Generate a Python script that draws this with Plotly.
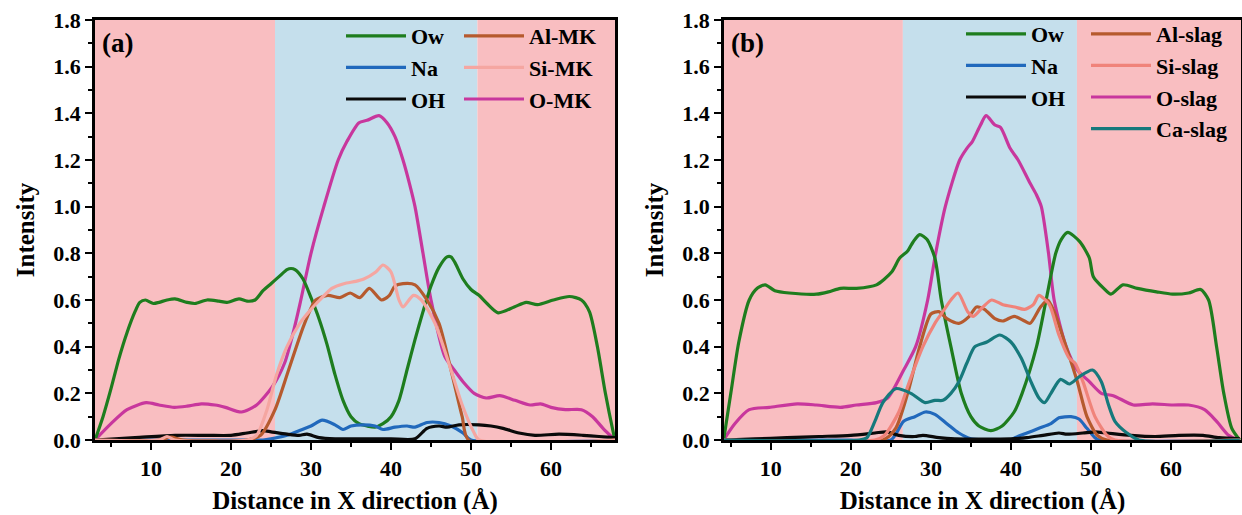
import plotly.graph_objects as go

# ---------------- Panel (a) data ----------------
A_OW_X = [3, 4, 5, 6, 7, 8, 8.6, 9.3, 10.3, 11, 12, 13, 14.5, 15.5, 17, 18.5, 19.5, 21, 22, 23, 24, 25, 26, 27, 27.5,
          28, 29, 30, 31, 32, 33, 34, 35, 36, 37, 38, 39, 40, 41, 42, 43, 44, 45, 46, 47, 47.5, 48, 49, 50, 51, 52,
          53.4, 55.4, 56.9, 58.3, 60.3, 62.3, 63.8, 64.8, 65.8, 66.8, 67.8, 68]
A_OW_Y = [0.0, 0.1, 0.22, 0.35, 0.46, 0.55, 0.59, 0.6, 0.585, 0.59, 0.6, 0.605, 0.59, 0.585, 0.6, 0.595, 0.59, 0.605,
          0.595, 0.6, 0.64, 0.67, 0.7, 0.73, 0.735, 0.73, 0.69, 0.61, 0.52, 0.41, 0.28, 0.17, 0.1, 0.07, 0.06, 0.055,
          0.07, 0.1, 0.17, 0.3, 0.43, 0.55, 0.66, 0.74, 0.785, 0.785, 0.76, 0.69, 0.645, 0.62, 0.585, 0.545, 0.57,
          0.59, 0.58, 0.6, 0.615, 0.6, 0.55, 0.4, 0.2, 0.03, 0.0]

A_NA_X = [3, 10, 20, 24, 25, 27, 28.5, 30, 31.4, 33, 34, 35, 36.5, 38, 39, 40.5, 42, 43, 44.5, 46, 47.5, 49, 50, 68]
A_NA_Y = [0.0, 0.0, 0.0, 0.0, 0.005, 0.02, 0.04, 0.06, 0.085, 0.065, 0.045, 0.06, 0.065, 0.06, 0.045, 0.055, 0.06,
          0.055, 0.075, 0.075, 0.06, 0.03, 0.0, 0.0]

A_OH_X = [3, 8, 13, 17, 20, 22, 24, 25, 27, 28.5, 29.5, 31, 33, 36, 40, 43, 44.5, 46, 47, 48.5, 51, 52.5, 54, 56, 58,
          61, 64, 66, 68]
A_OH_Y = [0.0, 0.01, 0.02, 0.02, 0.02, 0.03, 0.04, 0.035, 0.025, 0.02, 0.025, 0.01, 0.005, 0.005, 0.005, 0.005,
          0.05, 0.06, 0.055, 0.065, 0.065, 0.06, 0.05, 0.03, 0.02, 0.025, 0.02, 0.015, 0.01]

A_AL_X = [3, 11, 12.5, 14, 22, 23.7, 25.5, 27.2, 29.2, 30.6, 32.1, 33.6, 34.9, 36.1, 37.3, 38.8, 39.8, 40.5, 41.5, 43,
          44.5, 46, 47.5, 48.9, 49.7, 68]
A_AL_Y = [0.0, 0.0, 0.012, 0.0, 0.0, 0.02, 0.13, 0.3, 0.5, 0.6, 0.62, 0.61, 0.63, 0.61, 0.65, 0.6, 0.62, 0.66, 0.67,
          0.665, 0.6, 0.5, 0.3, 0.1, 0.0, 0.0]

A_SI_X = [3, 11, 12, 13, 22, 23.2, 24.5, 25.7, 27, 28.6, 30, 31.1, 32.6, 34.1, 35.6, 36.6, 38.1, 39, 40, 41, 41.5,
          42.8, 43.8, 45.5, 47.5, 48.9, 50.4, 51, 68]
A_SI_Y = [0.0, 0.0, 0.015, 0.0, 0.0, 0.02, 0.13, 0.28, 0.4, 0.5, 0.56, 0.6, 0.65, 0.67, 0.68, 0.69, 0.72, 0.75, 0.72,
          0.6, 0.57, 0.62, 0.6, 0.5, 0.3, 0.15, 0.03, 0.0, 0.0]

A_O_X = [3, 5, 7, 9.4, 11, 12.9, 14.5, 16.3, 18, 19.3, 21.3, 23.2, 25.2, 26.7, 27.7, 28.6, 30, 31.6, 33.4, 34.5, 36,
         37, 38.5, 39.5, 40.5, 41.5, 42.3, 43, 44, 45, 46.7, 47.9, 49, 50.4, 51.9, 53.6, 55.5, 57.4, 58.7, 60, 61.8,
         63.8, 65.2, 66.5, 68]
A_O_Y = [0.0, 0.07, 0.13, 0.16, 0.15, 0.14, 0.145, 0.155, 0.15, 0.14, 0.12, 0.15, 0.23, 0.33, 0.45, 0.58, 0.8, 1.0,
         1.2, 1.28, 1.36, 1.37, 1.39, 1.36, 1.3, 1.2, 1.1, 1.0, 0.8, 0.6, 0.36, 0.3, 0.25, 0.2, 0.18, 0.19, 0.17,
         0.15, 0.155, 0.14, 0.13, 0.13, 0.1, 0.05, 0.0]

# ---------------- Panel (b) data ----------------
B_OW_X = [4.1, 5, 6, 7.3, 8.3, 9.3, 10.5, 12.3, 15.7, 17.2, 18.7, 20.7, 23.2, 25.1, 26.1, 27.1, 27.8, 28.6, 29.5,
          30.5, 31.3, 32.5, 33.8, 35, 36, 37.5, 38.9, 40.4, 41.4, 43.2, 44.4, 45.6, 46.3, 47.1, 48.6, 49.8, 50.3,
          51.6, 52.5, 54, 55.8, 58.2, 60.2, 62.2, 63.7, 64.7, 65.7, 66.6, 67.6, 68.6]
B_OW_Y = [0.0, 0.2, 0.42, 0.6, 0.65, 0.665, 0.64, 0.63, 0.625, 0.635, 0.65, 0.65, 0.665, 0.72, 0.78, 0.81, 0.85,
          0.88, 0.86, 0.78, 0.6, 0.4, 0.2, 0.1, 0.06, 0.04, 0.06, 0.12, 0.2, 0.4, 0.6, 0.8, 0.86, 0.89, 0.85, 0.78,
          0.7, 0.65, 0.625, 0.665, 0.65, 0.635, 0.625, 0.63, 0.645, 0.6, 0.4, 0.2, 0.05, 0.0]

B_NA_X = [4.1, 20, 25, 26.6, 28, 29.3, 30.5, 32, 33.5, 35, 36.5, 40, 40.5, 42, 43.5, 45, 46, 47.5, 48.5, 49.5, 50.5,
          51, 68.6]
B_NA_Y = [0.0, 0.0, 0.0, 0.08, 0.1, 0.12, 0.11, 0.07, 0.03, 0.005, 0.0, 0.0, 0.01, 0.03, 0.05, 0.07, 0.095, 0.1,
          0.09, 0.05, 0.01, 0.0, 0.0]

B_OH_X = [4.1, 8, 12, 16, 20, 23, 24.5, 26, 28, 29, 31, 33, 40, 42, 44, 46, 47, 49, 50.5, 52, 55, 58, 61, 64, 66, 68.6]
B_OH_Y = [0.0, 0.005, 0.01, 0.015, 0.02, 0.03, 0.035, 0.02, 0.015, 0.02, 0.01, 0.005, 0.005, 0.01, 0.02, 0.03,
          0.025, 0.03, 0.035, 0.03, 0.02, 0.015, 0.02, 0.02, 0.01, 0.005]

B_AL_X = [4.1, 24, 25.6, 27.1, 28.6, 30, 31, 32, 33.5, 34.8, 35.7, 36.7, 38, 39, 40.4, 41.7, 42.4, 43.7, 44.6, 45.4,
          46.9, 48.3, 49.5, 50.8, 52, 68.6]
B_AL_Y = [0.0, 0.0, 0.05, 0.2, 0.4, 0.54, 0.55, 0.52, 0.5, 0.53, 0.57, 0.56, 0.52, 0.51, 0.53, 0.51, 0.5, 0.57, 0.6,
          0.55, 0.4, 0.25, 0.1, 0.02, 0.0, 0.0]

B_SI_X = [4.1, 23, 24.2, 26, 27, 29, 30.5, 31.5, 32.5, 33.4, 34.6, 35.3, 36.5, 37.6, 39, 40.5, 41.7, 42.8, 43.5, 44.8,
          46, 47.3, 48, 49, 50.5, 52, 53, 68.6]
B_SI_Y = [0.0, 0.0, 0.02, 0.12, 0.22, 0.4, 0.5, 0.55, 0.6, 0.63, 0.55, 0.53, 0.57, 0.6, 0.58, 0.57, 0.56, 0.58, 0.62,
          0.58, 0.45, 0.35, 0.33, 0.25, 0.1, 0.02, 0.0, 0.0]

B_O_X = [4.1, 5.5, 7.3, 9.8, 13.3, 15.7, 18.7, 20.7, 23.2, 24.6, 26.6, 28.1, 29.6, 30.6, 31.8, 33.6, 34.5, 35.2,
         36.2, 36.9, 38, 38.7, 39.9, 40.9, 42.4, 43.2, 43.8, 44.7, 45.4, 46.9, 48.3, 49.8, 51.3, 52.8, 55.3, 57.7,
         60.2, 62.2, 64.2, 65.7, 67.2, 68.4]
B_O_Y = [0.0, 0.07, 0.13, 0.14, 0.155, 0.15, 0.14, 0.15, 0.16, 0.18, 0.3, 0.4, 0.6, 0.8, 1.0, 1.2, 1.25, 1.28, 1.35,
         1.39, 1.35, 1.34, 1.25, 1.2, 1.1, 1.05, 1.0, 0.8, 0.6, 0.4, 0.3, 0.25, 0.2, 0.19, 0.15, 0.155, 0.15, 0.15,
         0.13, 0.08, 0.02, 0.0]

B_CA_X = [4.1, 21, 22, 23, 24, 25.6, 27.5, 29.3, 30.5, 31.5, 32.5, 33.5, 34.5, 35.5, 37, 38.6, 40, 41.3, 42.5, 43.5,
          44.2, 45, 46.2, 47.3, 48.5, 50.2, 51.3, 52.2, 53, 54.5, 56, 68.6]
B_CA_Y = [0.0, 0.0, 0.01, 0.08, 0.16, 0.22, 0.2, 0.16, 0.17, 0.17, 0.2, 0.25, 0.33, 0.4, 0.42, 0.45, 0.42, 0.35, 0.25,
          0.18, 0.16, 0.2, 0.26, 0.24, 0.27, 0.3, 0.25, 0.15, 0.08, 0.03, 0.0, 0.0]

# shaded regions: [pink start, blue start, blue end, pink end]
A_REGIONS = [3, 25.5, 50.8, 68]
B_REGIONS = [4.15, 26.5, 48.25, 68.75]

X_TICKS = [10, 20, 30, 40, 50, 60]
X_TICK_TEXT = ["10", "20", "30", "40", "50", "60"]
Y_TICKS = [0.0, 0.2, 0.4, 0.6, 0.8, 1.0, 1.2, 1.4, 1.6, 1.8]
Y_TICK_TEXT = ["0.0", "0.2", "0.4", "0.6", "0.8", "1.0", "1.2", "1.4", "1.6", "1.8"]

C_OW = "#1E7D1E"
C_NA = "#2169BC"
C_OH = "#0A0A0A"
C_AL = "#B65A2E"
C_SI_A = "#F5A6A1"
C_SI_B = "#F0837A"
C_O = "#C8379D"
C_CA = "#16797C"
PINK = "#F9BEC1"
BLUE = "#C5DFEC"

FONT = "Liberation Serif"
W, H = 1242, 515

fig = go.Figure()

def add(x, y, name, color, xa, ya, legend, rank):
    fig.add_trace(go.Scatter(x=x, y=y, name=name, mode="lines", xaxis=xa, yaxis=ya, legend=legend,
                             legendrank=rank,
                             line=dict(color=color, width=3.2, shape="spline", smoothing=0.7)))

# Panel a
add(A_O_X, A_O_Y, "O-MK", C_O, "x", "y", "legend2", 3)
add(A_OW_X, A_OW_Y, "Ow", C_OW, "x", "y", "legend", 1)
add(A_NA_X, A_NA_Y, "Na", C_NA, "x", "y", "legend", 2)
add(A_OH_X, A_OH_Y, "OH", C_OH, "x", "y", "legend", 3)
add(A_AL_X, A_AL_Y, "Al-MK", C_AL, "x", "y", "legend2", 1)
add(A_SI_X, A_SI_Y, "Si-MK", C_SI_A, "x", "y", "legend2", 2)
# Panel b
add(B_O_X, B_O_Y, "O-slag", C_O, "x2", "y2", "legend4", 3)
add(B_OW_X, B_OW_Y, "Ow", C_OW, "x2", "y2", "legend3", 1)
add(B_NA_X, B_NA_Y, "Na", C_NA, "x2", "y2", "legend3", 2)
add(B_OH_X, B_OH_Y, "OH", C_OH, "x2", "y2", "legend3", 3)
add(B_AL_X, B_AL_Y, "Al-slag", C_AL, "x2", "y2", "legend4", 1)
add(B_SI_X, B_SI_Y, "Si-slag", C_SI_B, "x2", "y2", "legend4", 2)
add(B_CA_X, B_CA_Y, "Ca-slag", C_CA, "x2", "y2", "legend4", 4)

# background shading
shapes = []
for xr, yr, reg in (("x", "y domain", A_REGIONS), ("x2", "y2 domain", B_REGIONS)):
    cols = [PINK, BLUE, PINK]
    for i in range(3):
        shapes.append(dict(type="rect", xref=xr, yref=yr, x0=reg[i], x1=reg[i + 1], y0=0, y1=1,
                           fillcolor=cols[i], line_width=0, layer="below"))

def px_x(p):
    return p / W

def px_y(p):
    return 1 - p / H

ydom = [px_y(440), px_y(20)]

axis_common = dict(showline=True, linecolor="black", linewidth=2.5, mirror=True, ticks="outside",
                   ticklen=7, tickwidth=2, tickcolor="black", showgrid=False, zeroline=False,
                   automargin=False,
                   tickfont=dict(family=FONT, size=22, color="black", weight="bold"))

def xaxis(dom, rng, anchor):
    return dict(axis_common, domain=dom, range=rng, anchor=anchor, tickvals=X_TICKS, ticktext=X_TICK_TEXT,
                minor=dict(ticks="outside", ticklen=4, tickwidth=2, tickcolor="black", dtick=5, tick0=0),
                title=dict(text="Distance in X direction (Å)", standoff=12,
                           font=dict(family=FONT, size=25, color="black", weight="bold")))

def yaxis(anchor):
    return dict(axis_common, domain=ydom, range=[0, 1.8], anchor=anchor, tickvals=Y_TICKS, ticktext=Y_TICK_TEXT,
                minor=dict(ticks="outside", ticklen=4, tickwidth=2, tickcolor="black", dtick=0.1, tick0=0),
                title=dict(text="Intensity", standoff=12,
                           font=dict(family=FONT, size=25, color="black", weight="bold")))

leg_font = dict(family=FONT, size=22, color="black", weight="bold")

def legend(xp, yp):
    return dict(x=px_x(xp), y=px_y(yp), xanchor="left", yanchor="top", bgcolor="rgba(0,0,0,0)",
                font=leg_font, itemwidth=60, tracegroupgap=0, borderwidth=0,
                traceorder="normal", itemclick=False)

fig.update_layout(
    template="none",
    width=W, height=H, autosize=False,
    margin=dict(l=0, r=0, t=0, b=0, pad=0),
    paper_bgcolor="white", plot_bgcolor="white",
    xaxis=xaxis([px_x(95), px_x(615)], [A_REGIONS[0], A_REGIONS[3]], "y"),
    yaxis=yaxis("x"),
    xaxis2=xaxis([px_x(724), px_x(1241)], [B_REGIONS[0], B_REGIONS[3]], "y2"),
    yaxis2=yaxis("x2"),
    shapes=shapes,
    showlegend=True,
    legend=legend(341, 15),
    legend2=legend(459, 15),
    legend3=legend(961, 13),
    legend4=legend(1086, 13),
    annotations=[
        dict(text="(a)", x=px_x(100), y=px_y(43), xref="paper", yref="paper", xanchor="left", yanchor="middle",
             showarrow=False, font=dict(family=FONT, size=27, color="black", weight="bold")),
        dict(text="(b)", x=px_x(729), y=px_y(43), xref="paper", yref="paper", xanchor="left", yanchor="middle",
             showarrow=False, font=dict(family=FONT, size=27, color="black", weight="bold")),
    ],
)

fig.write_html("out.html", config={"displayModeBar": False},
               post_script="document.body.style.margin='0';document.body.style.overflow='hidden';")
